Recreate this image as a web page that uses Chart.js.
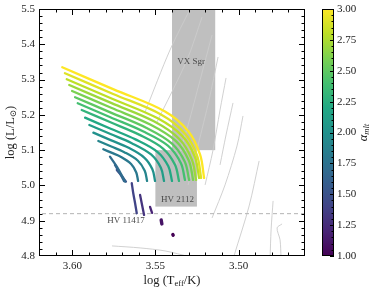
<!DOCTYPE html>
<html>
<head>
<meta charset="utf-8">
<script src="https://cdn.jsdelivr.net/npm/chart.js@4.4.1/dist/chart.umd.min.js"></script>
<style>
  html, body { margin: 0; padding: 0; background: #fff; }
</style>
</head>
<body>
<canvas id="hrChart" width="374" height="292"></canvas>
<script>
// mixing length values, one track each (yellow = 3.0 first)
var alphaValues = [3.0, 2.9, 2.8, 2.7, 2.6, 2.5, 2.4, 2.3, 2.2, 2.1, 2.0,
                   1.9, 1.8, 1.7, 1.6, 1.5, 1.4, 1.3, 1.2, 1.1, 1.0];

// log Teff along each track
var trackTeff = [
    [3.6060, 3.5751, 3.5442, 3.5301, 3.5231, 3.5207],
    [3.6044, 3.5754, 3.5464, 3.5321, 3.5249, 3.5225],
    [3.6033, 3.5760, 3.5486, 3.5337, 3.5262, 3.5237],
    [3.6018, 3.5763, 3.5509, 3.5356, 3.5281, 3.5255],
    [3.6001, 3.5766, 3.5531, 3.5376, 3.5299, 3.5273],
    [3.5983, 3.5768, 3.5553, 3.5400, 3.5323, 3.5297],
    [3.5967, 3.5771, 3.5575, 3.5423, 3.5347, 3.5322],
    [3.5943, 3.5770, 3.5598, 3.5454, 3.5382, 3.5358],
    [3.5923, 3.5772, 3.5620, 3.5488, 3.5422, 3.5400],
    [3.5897, 3.5770, 3.5642, 3.5526, 3.5467, 3.5448],
    [3.5873, 3.5769, 3.5664, 3.5567, 3.5518, 3.5502],
    [3.5843, 3.5765, 3.5687, 3.5605, 3.5564, 3.5550],
    [3.5813, 3.5761, 3.5709, 3.5646, 3.5615, 3.5604],
    [3.5773, 3.5731, 3.5693, 3.5683],
    [3.5743, 3.5725, 3.5702, 3.5689],
    [3.5732, 3.5707, 3.5677],
    [3.5642, 3.5633, 3.5622, 3.5612],
    [3.5592, 3.5580, 3.5568],
    [3.5532, 3.5526, 3.5520],
    [3.5465, 3.5461],
    [3.5395, 3.5393]
];

// log L along each track
var trackLum = [
    [5.3348, 5.2722, 5.2096, 5.1530, 5.0872, 5.0212],
    [5.3178, 5.2592, 5.2006, 5.1467, 5.0841, 5.0212],
    [5.3008, 5.2455, 5.1901, 5.1394, 5.0804, 5.0212],
    [5.2847, 5.2331, 5.1816, 5.1317, 5.0737, 5.0156],
    [5.2677, 5.2201, 5.1725, 5.1255, 5.0705, 5.0156],
    [5.2499, 5.2064, 5.1629, 5.1187, 5.0671, 5.0156],
    [5.2329, 5.1932, 5.1535, 5.1122, 5.0637, 5.0156],
    [5.2139, 5.1789, 5.1439, 5.1045, 5.0586, 5.0127],
    [5.1921, 5.1613, 5.1306, 5.0952, 5.0541, 5.0127],
    [5.1714, 5.1456, 5.1198, 5.0878, 5.0501, 5.0127],
    [5.1496, 5.1285, 5.1074, 5.0790, 5.0459, 5.0127],
    [5.1261, 5.1102, 5.0943, 5.0700, 5.0414, 5.0127],
    [5.1025, 5.0921, 5.0816, 5.0609, 5.0368, 5.0127],
    [5.0816, 5.0524, 5.0204, 5.0108],
    [5.0581, 5.0439, 5.0249, 5.0127],
    [5.0439, 5.0297, 5.0108],
    [5.0062, 4.9779, 4.9496, 4.9212],
    [4.9731, 4.9448, 4.9164],
    [4.9391, 4.9306, 4.9221],
    [4.9023, 4.8909],
    [4.8610, 4.8590]
];

// thin grey background tracks
var greyTeff = [
    [3.5285, 3.5412, 3.5562],
    [3.5219, 3.5310, 3.5490],
    [3.5159, 3.5231, 3.5303, 3.5376],
    [3.5123, 3.5177, 3.5243, 3.5303],
    [3.5075, 3.5111, 3.5153, 3.5201],
    [3.5033, 3.5075, 3.5111],
    [3.4973, 3.5009, 3.5081, 3.5159],
    [3.4876, 3.4936, 3.5027, 3.5033],
    [3.4792, 3.4804, 3.4810],
    [3.4738, 3.4768, 3.4750, 3.4744],
    [3.5761, 3.5592, 3.5442, 3.5291]
];
var greyLum = [
    [5.5057, 5.3839, 5.2082],
    [5.4773, 5.3555, 5.1799],
    [5.4263, 5.2989, 5.1714, 5.0581],
    [5.3640, 5.2422, 5.1147, 5.0014],
    [5.3045, 5.2139, 5.1006, 5.0014],
    [5.2337, 5.1431, 5.0581],
    [5.1969, 5.1119, 5.0014, 4.9079],
    [5.0694, 4.9419, 4.8003, 4.7889],
    [4.9561, 4.8739, 4.7946],
    [4.8909, 4.8796, 4.8456, 4.7946],
    [4.8286, 4.8229, 4.8144, 4.7975]
];

// observed stars: boxes and labels
var vxSgrTeff = [3.514, 3.540];
var vxSgrLum = [5.10, 5.60];
var hv2112Teff = [3.525, 3.550];
var hv2112Lum = [4.94, 5.10];
var starNames = ['VX Sgr', 'HV 2112', 'HV 11417'];
var starLabelTeff = [3.5285, 3.5367, 3.5677];
var starLabelLum = [5.350, 4.959, 4.899];
var hv11417Lum = 4.92;

var xTicks = [3.50, 3.55, 3.60];
var yTicks = [4.8, 4.9, 5.0, 5.1, 5.2, 5.3, 5.4, 5.5];
var cbTicks = [1.00, 1.25, 1.50, 1.75, 2.00, 2.25, 2.50, 2.75, 3.00];

var serif = '"Liberation Serif", "DejaVu Serif", serif';
var viridisStops = [[68, 1, 84], [72, 36, 117], [65, 68, 135], [53, 95, 141], [42, 120, 142],
    [33, 145, 140], [34, 168, 132], [68, 191, 112], [122, 209, 81], [189, 223, 38], [253, 231, 37]];

function viridis(t) {
    t = Math.max(0, Math.min(1, t));
    var p = t * 10, i = Math.min(9, Math.floor(p)), f = p - i;
    var a = viridisStops[i], b = viridisStops[i + 1];
    return 'rgb(' + Math.round(a[0] + (b[0] - a[0]) * f) + ',' +
        Math.round(a[1] + (b[1] - a[1]) * f) + ',' + Math.round(a[2] + (b[2] - a[2]) * f) + ')';
}

function toPoints(ts, ls) {
    return ts.map(function (t, j) { return { x: t, y: ls[j] }; });
}

var datasets = [];
for (var i = 0; i < alphaValues.length; i++) {
    datasets.push({
        data: toPoints(trackTeff[i], trackLum[i]),
        showLine: true,
        borderColor: viridis((alphaValues[i] - 1) / 2),
        borderWidth: alphaValues[i] <= 1.15 ? 3.4 : 2.3,
        borderCapStyle: 'round',
        borderJoinStyle: 'round',
        tension: 0.35,
        pointRadius: 0,
        clip: 0,
        order: i + 1
    });
}
datasets.push({
    data: [{ x: 3.46, y: hv11417Lum }, { x: 3.62, y: hv11417Lum }],
    showLine: true,
    borderColor: '#b3b3b3',
    borderWidth: 1,
    borderDash: [4, 3],
    pointRadius: 0,
    clip: 0,
    order: 90
});
for (var g = 0; g < greyTeff.length; g++) {
    datasets.push({
        data: toPoints(greyTeff[g], greyLum[g]),
        showLine: true,
        borderColor: '#cccccc',
        borderWidth: 0.9,
        tension: 0.3,
        pointRadius: 0,
        clip: 0,
        order: 100
    });
}

function drawRich(ctx, parts, cx, cy, angle) {
    ctx.save();
    ctx.translate(cx, cy);
    ctx.rotate(angle);
    var total = 0;
    parts.forEach(function (p) {
        ctx.font = (p.italic ? 'italic ' : '') + p.size + 'px ' + serif;
        p.w = ctx.measureText(p.text).width;
        total += p.w;
    });
    var x = -total / 2;
    ctx.textBaseline = 'middle';
    ctx.textAlign = 'left';
    parts.forEach(function (p) {
        ctx.font = (p.italic ? 'italic ' : '') + p.size + 'px ' + serif;
        ctx.fillText(p.text, x, p.dy || 0);
        x += p.w;
    });
    ctx.restore();
}

var decorPlugin = {
    id: 'decor',
    beforeDatasetsDraw: function (chart) {
        var ctx = chart.ctx, a = chart.chartArea, sx = chart.scales.x, sy = chart.scales.y;
        ctx.save();
        ctx.beginPath();
        ctx.rect(a.left, a.top, a.right - a.left, a.bottom - a.top);
        ctx.clip();
        ctx.fillStyle = 'rgb(191,191,191)';
        [[vxSgrTeff, vxSgrLum], [hv2112Teff, hv2112Lum]].forEach(function (b) {
            var x0 = sx.getPixelForValue(b[0][0]), x1 = sx.getPixelForValue(b[0][1]);
            var y0 = sy.getPixelForValue(b[1][0]), y1 = sy.getPixelForValue(b[1][1]);
            ctx.fillRect(Math.min(x0, x1), Math.min(y0, y1), Math.abs(x1 - x0), Math.abs(y1 - y0));
        });
        ctx.restore();
    },
    afterDatasetsDraw: function (chart) {
        var ctx = chart.ctx, sx = chart.scales.x, sy = chart.scales.y;
        ctx.save();
        ctx.fillStyle = '#4a4a4a';
        ctx.font = '9px ' + serif;
        ctx.textAlign = 'center';
        ctx.textBaseline = 'middle';
        for (var k = 0; k < starNames.length; k++) {
            ctx.fillText(starNames[k], sx.getPixelForValue(starLabelTeff[k]), sy.getPixelForValue(starLabelLum[k]));
        }
        ctx.restore();
    },
    afterDraw: function (chart) {
        var ctx = chart.ctx, a = chart.chartArea, sx = chart.scales.x, sy = chart.scales.y, cb = chart.scales.cb;
        ctx.save();
        ctx.strokeStyle = '#000';
        ctx.lineWidth = 1;
        ctx.strokeRect(a.left + 0.5, a.top + 0.5, a.right - a.left - 1, a.bottom - a.top - 1);

        function seg(x0, y0, x1, y1) {
            ctx.beginPath(); ctx.moveTo(x0, y0); ctx.lineTo(x1, y1); ctx.stroke();
        }
        // inward ticks, all four sides
        for (var i = 347; i <= 361; i++) {
            var px = Math.round(sx.getPixelForValue(i / 100)) + 0.5;
            var len = i % 5 === 0 ? 6 : 3.5;
            seg(px, a.bottom, px, a.bottom - len);
            seg(px, a.top, px, a.top + len);
        }
        for (var j = 241; j <= 274; j++) {
            var py = Math.round(sy.getPixelForValue(j / 50)) + 0.5;
            var ly = j % 5 === 0 ? 6 : 3.5;
            seg(a.left, py, a.left + ly, py);
            seg(a.right, py, a.right - ly, py);
        }

        // colour bar
        var bx0 = cb.left + 17, bx1 = cb.left + 29;
        var bTop = cb.getPixelForValue(3), bBot = cb.getPixelForValue(1);
        var grad = ctx.createLinearGradient(0, bBot, 0, bTop);
        for (var s = 0; s <= 20; s++) grad.addColorStop(s / 20, viridis(s / 20));
        ctx.fillStyle = grad;
        ctx.fillRect(bx0, bTop, bx1 - bx0, bBot - bTop);
        ctx.strokeRect(bx0 + 0.5, bTop + 0.5, bx1 - bx0 - 1, bBot - bTop - 1);
        for (var c = 20; c <= 60; c++) {
            var cy = Math.round(cb.getPixelForValue(c / 20)) + 0.5;
            seg(bx1, cy, bx1 - (c % 5 === 0 ? 4 : 2.5), cy);
        }

        // axis titles
        ctx.fillStyle = '#222';
        drawRich(ctx, [
            { text: 'log (T', size: 12.5 },
            { text: 'eff', size: 8.5, dy: 3 },
            { text: '/K)', size: 12.5 }
        ], (a.left + a.right) / 2, 281, 0);
        drawRich(ctx, [
            { text: 'log (L/L', size: 12.5 },
            { text: '\u2299', size: 8.5, dy: 3 },
            { text: ')', size: 12.5 }
        ], 11, (a.top + a.bottom) / 2, -Math.PI / 2);
        drawRich(ctx, [
            { text: '\u03b1', size: 12.5, italic: true },
            { text: 'mlt', size: 8.5, dy: 3, italic: true }
        ], 364, (a.top + a.bottom) / 2, -Math.PI / 2);
        ctx.restore();
    }
};

var tickFont = { family: serif, size: 11 };
// label offsets come from invisible tick marks, so the scales add no extra vertical padding
var hiddenGrid = function (len) {
    return { display: true, drawOnChartArea: false, drawTicks: true, tickLength: len, color: 'rgba(0,0,0,0)' };
};

new Chart(document.getElementById('hrChart'), {
    type: 'scatter',
    data: { datasets: datasets },
    options: {
        responsive: false,
        animation: false,
        events: [],
        layout: { padding: { top: 9, left: 0, right: 0, bottom: 0 } },
        plugins: { legend: { display: false }, tooltip: { enabled: false } },
        scales: {
            x: {
                type: 'linear', position: 'bottom', min: 3.46, max: 3.62, reverse: true,
                grid: hiddenGrid(4), border: { display: false },
                ticks: {
                    padding: 0, color: '#222', font: tickFont, autoSkip: false, maxRotation: 0,
                    callback: function (v) { return v.toFixed(2); }
                },
                afterBuildTicks: function (s) { s.ticks = xTicks.map(function (v) { return { value: v }; }); },
                afterFit: function (s) { s.height = 36; }
            },
            y: {
                type: 'linear', position: 'left', min: 4.8, max: 5.5,
                grid: hiddenGrid(4), border: { display: false },
                ticks: {
                    padding: 0, color: '#222', font: tickFont, autoSkip: false,
                    callback: function (v) { return v.toFixed(1); }
                },
                afterBuildTicks: function (s) { s.ticks = yTicks.map(function (v) { return { value: v }; }); },
                afterFit: function (s) { s.width = 39; }
            },
            cb: {
                type: 'linear', position: 'right', min: 1, max: 3,
                grid: hiddenGrid(32), border: { display: false },
                ticks: {
                    padding: 0, color: '#222', font: tickFont, autoSkip: false,
                    callback: function (v) { return v.toFixed(2); }
                },
                afterBuildTicks: function (s) { s.ticks = cbTicks.map(function (v) { return { value: v }; }); },
                afterFit: function (s) { s.width = 69; }
            }
        }
    },
    plugins: [decorPlugin]
});
</script>
</body>
</html>
